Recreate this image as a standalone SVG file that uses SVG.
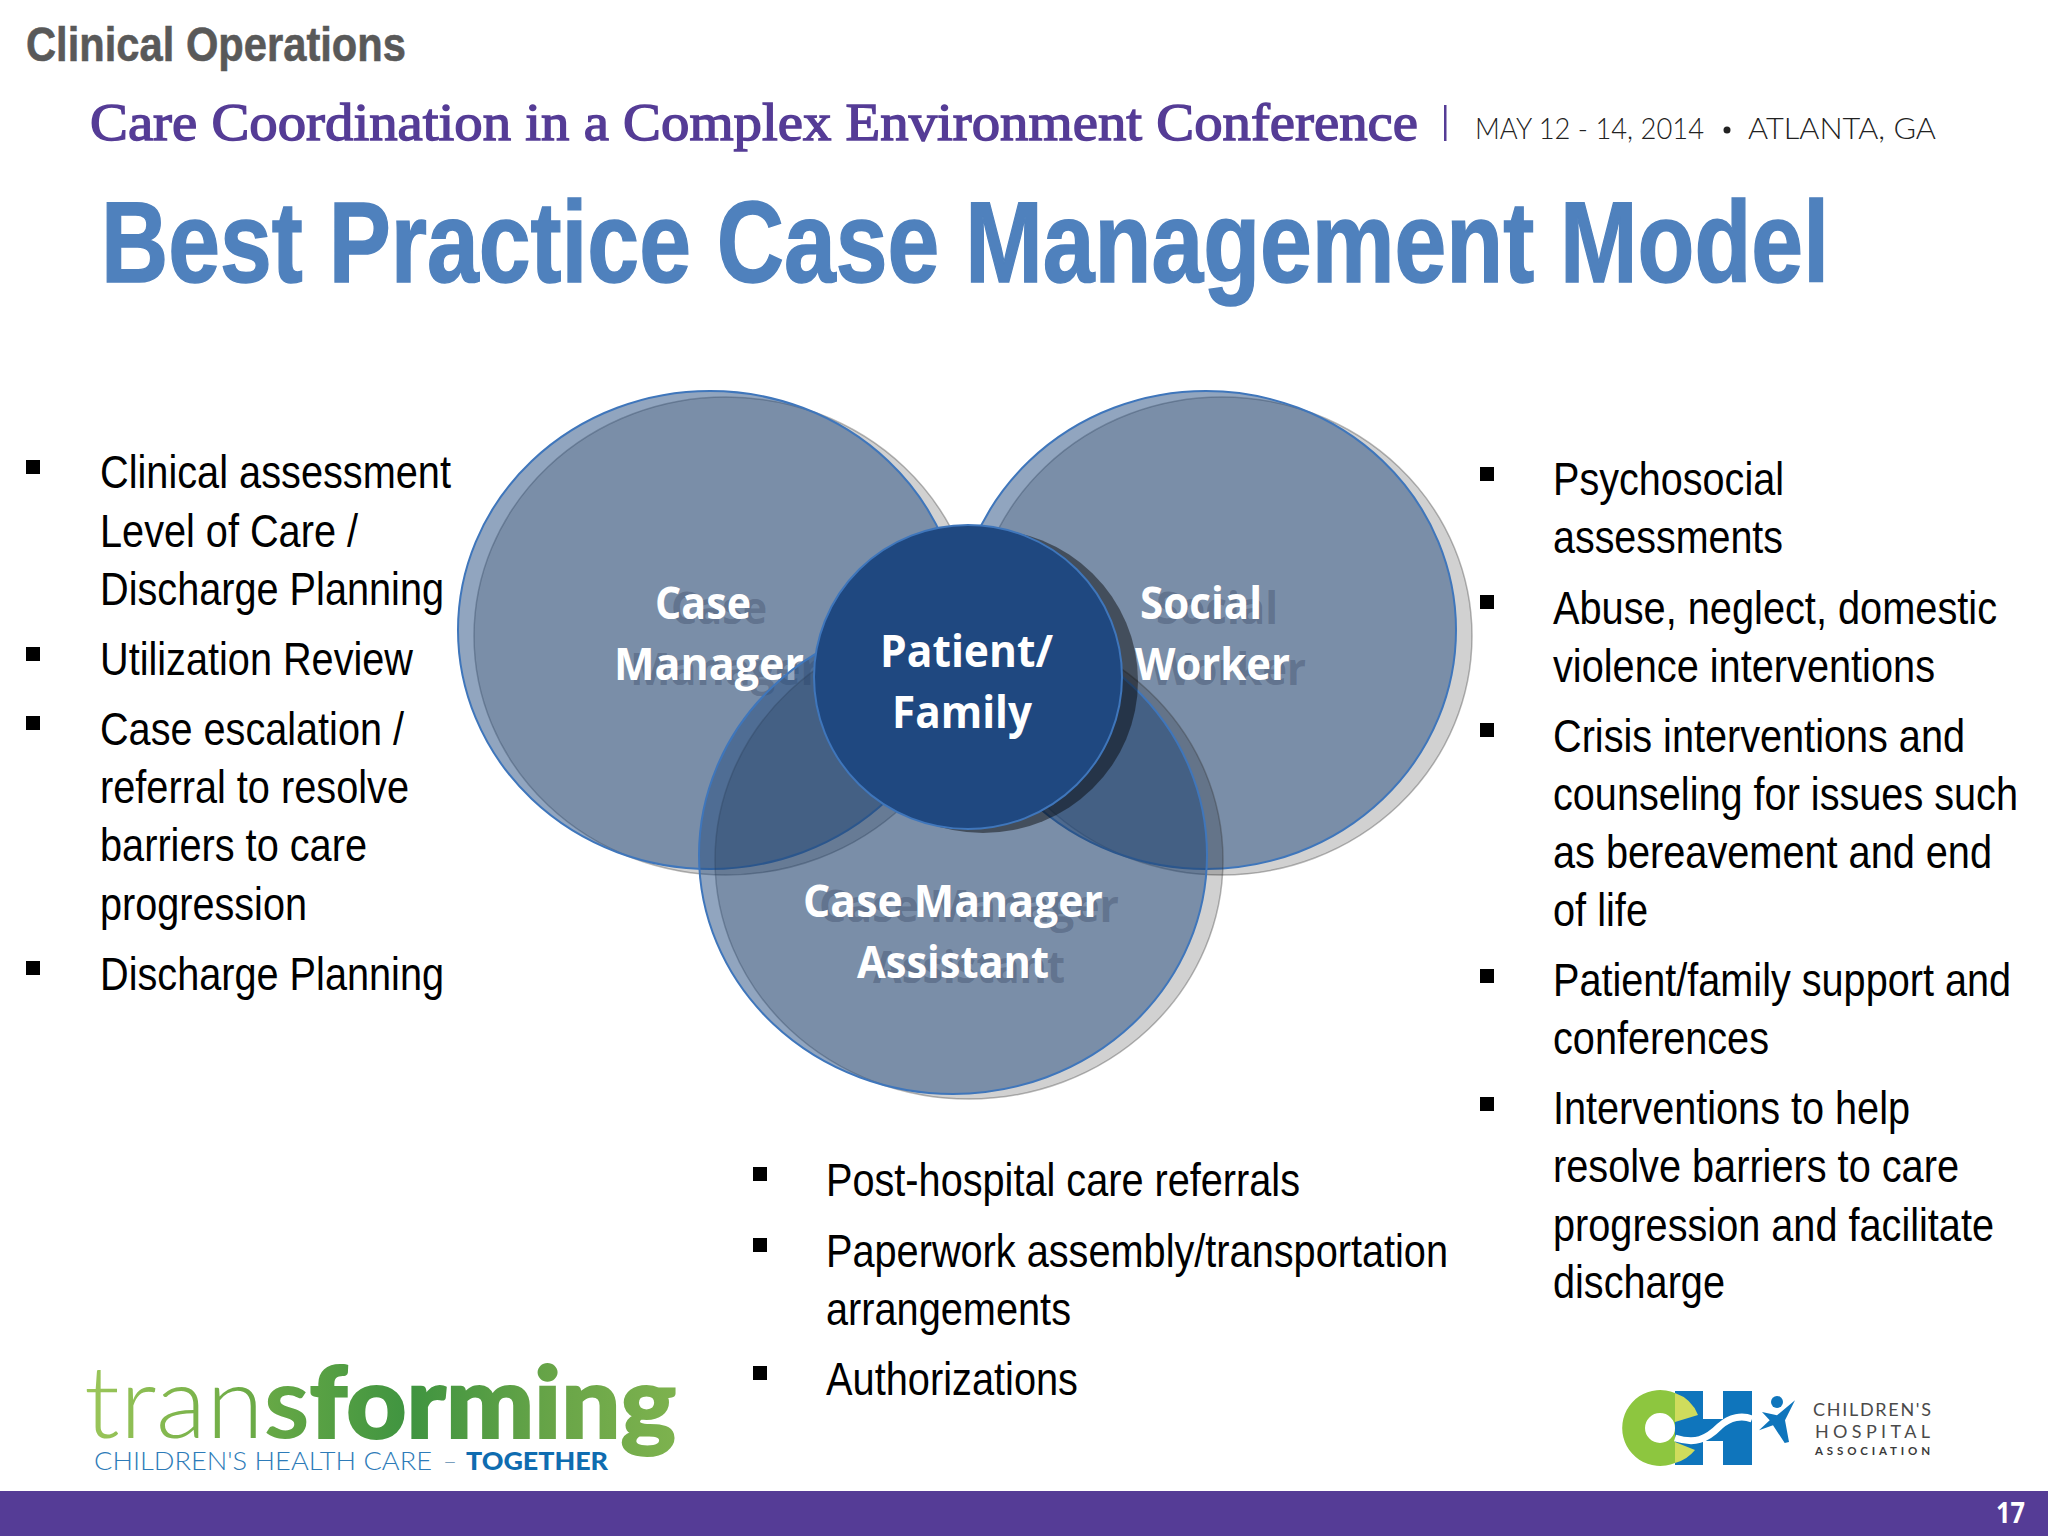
<svg xmlns="http://www.w3.org/2000/svg" width="2048" height="1536" viewBox="0 0 2048 1536">
<style>
text{font-family:"Liberation Sans",Arial,sans-serif}
.b{font-size:47px;fill:#000}
.sq{fill:#000}
.sh{fill:#000;fill-opacity:.18;stroke:#333;stroke-opacity:.35;stroke-width:1.5}
.m{fill:#234c80;fill-opacity:.5;stroke:#3f76bb;stroke-width:2}
.l{font-family:"Open Sans","Liberation Sans",sans-serif;font-weight:700;font-size:44px;fill:#fff}
.ls{font-family:"Open Sans","Liberation Sans",sans-serif;font-weight:700;font-size:44px;fill:#3a4a66;fill-opacity:.4}
.la{font-family:Lato,"Liberation Sans",sans-serif}
</style>
<defs>
<linearGradient id="tg" gradientUnits="userSpaceOnUse" x1="86" y1="0" x2="674" y2="0">
<stop offset="0" stop-color="#9cc65a"/><stop offset=".25" stop-color="#70ad47"/><stop offset=".55" stop-color="#3f9440"/><stop offset=".8" stop-color="#69a548"/><stop offset="1" stop-color="#7db24e"/>
</linearGradient>
</defs>
<rect width="2048" height="1536" fill="#fff"/>
<g id="header">
<text x="26" y="61" font-size="49" font-weight="700" fill="#595959" stroke="#595959" stroke-width=".6" textLength="380" lengthAdjust="spacingAndGlyphs">Clinical Operations</text>
<text x="90" y="140" font-size="53" font-weight="400" fill="#553c96" stroke="#553c96" stroke-width="1.400" style="font-family:'Liberation Serif',serif" textLength="1328" lengthAdjust="spacingAndGlyphs">Care Coordination in a Complex Environment Conference</text>
<rect x="1444" y="105" width="2.500" height="36" fill="#553c96"/>
<text class="la" x="1475" y="139" font-size="29" font-weight="300" fill="#222" textLength="229" lengthAdjust="spacingAndGlyphs">MAY 12 - 14, 2014</text>
<circle cx="1727" cy="130" r="3.500" fill="#222"/>
<text class="la" x="1748" y="139" font-size="29" font-weight="300" fill="#222" textLength="188" lengthAdjust="spacingAndGlyphs">ATLANTA, GA</text>
<text x="101" y="282" font-size="115" font-weight="700" fill="#4f81bd" stroke="#4f81bd" stroke-width="1.500" textLength="1728" lengthAdjust="spacingAndGlyphs">Best Practice Case Management Model</text>
</g>
<g id="node-case-manager">
<ellipse class="sh" cx="726" cy="636" rx="252" ry="239"/>
<ellipse class="m" cx="710" cy="630" rx="252" ry="239"/>
<text class="ls" x="671" y="624" textLength="96" lengthAdjust="spacingAndGlyphs">Case</text>
<text class="ls" x="630" y="685" textLength="190" lengthAdjust="spacingAndGlyphs">Manager</text>
<text class="l" x="655" y="619" textLength="96" lengthAdjust="spacingAndGlyphs">Case</text>
<text class="l" x="614" y="680" textLength="190" lengthAdjust="spacingAndGlyphs">Manager</text>
</g>
<g id="node-social-worker">
<ellipse class="sh" cx="1222" cy="636" rx="250" ry="239"/>
<ellipse class="m" cx="1206" cy="630" rx="250" ry="239"/>
<text class="ls" x="1156" y="624" textLength="122" lengthAdjust="spacingAndGlyphs">Social</text>
<text class="ls" x="1151" y="685" textLength="155" lengthAdjust="spacingAndGlyphs">Worker</text>
<text class="l" x="1140" y="619" textLength="122" lengthAdjust="spacingAndGlyphs">Social</text>
<text class="l" x="1135" y="680" textLength="155" lengthAdjust="spacingAndGlyphs">Worker</text>
</g>
<g id="node-assistant">
<ellipse class="sh" cx="969" cy="860" rx="254" ry="239"/>
<ellipse class="m" cx="953" cy="855" rx="254" ry="239"/>
<text class="ls" x="819" y="922" textLength="300" lengthAdjust="spacingAndGlyphs">Case Manager</text>
<text class="ls" x="873" y="983" textLength="192" lengthAdjust="spacingAndGlyphs">Assistant</text>
<text class="l" x="803" y="917" textLength="300" lengthAdjust="spacingAndGlyphs">Case Manager</text>
<text class="l" x="857" y="978" textLength="192" lengthAdjust="spacingAndGlyphs">Assistant</text>
</g>
<g id="node-patient-family">
<ellipse cx="983" cy="681" rx="155" ry="152" fill="#000" fill-opacity=".45"/>
<ellipse cx="968" cy="677" rx="154" ry="152" fill="#1f4880" stroke="#3f76bb" stroke-width="2"/>
<text class="l" x="880" y="667" textLength="173" lengthAdjust="spacingAndGlyphs">Patient/</text>
<text class="l" x="892" y="728" textLength="140" lengthAdjust="spacingAndGlyphs">Family</text>
</g>
<g id="connectors"/>
<g id="list-left">
<rect class="sq" x="26" y="460" width="14" height="14"/><rect class="sq" x="26" y="647" width="14" height="14"/><rect class="sq" x="26" y="716" width="14" height="14"/><rect class="sq" x="26" y="961" width="14" height="14"/>
<text class="b" x="100" y="488" textLength="351" lengthAdjust="spacingAndGlyphs">Clinical assessment</text>
<text class="b" x="100" y="547" textLength="258" lengthAdjust="spacingAndGlyphs">Level of Care /</text>
<text class="b" x="100" y="605" textLength="344" lengthAdjust="spacingAndGlyphs">Discharge Planning</text>
<text class="b" x="100" y="675" textLength="313" lengthAdjust="spacingAndGlyphs">Utilization Review</text>
<text class="b" x="100" y="745" textLength="304" lengthAdjust="spacingAndGlyphs">Case escalation /</text>
<text class="b" x="100" y="803" textLength="309" lengthAdjust="spacingAndGlyphs">referral to resolve</text>
<text class="b" x="100" y="861" textLength="267" lengthAdjust="spacingAndGlyphs">barriers to care</text>
<text class="b" x="100" y="920" textLength="207" lengthAdjust="spacingAndGlyphs">progression</text>
<text class="b" x="100" y="990" textLength="344" lengthAdjust="spacingAndGlyphs">Discharge Planning</text>
</g>
<g id="list-right">
<rect class="sq" x="1480" y="467" width="14" height="14"/><rect class="sq" x="1480" y="595" width="14" height="14"/><rect class="sq" x="1480" y="723" width="14" height="14"/><rect class="sq" x="1480" y="969" width="14" height="14"/><rect class="sq" x="1480" y="1097" width="14" height="14"/>
<text class="b" x="1553" y="495" textLength="231" lengthAdjust="spacingAndGlyphs">Psychosocial</text>
<text class="b" x="1553" y="553" textLength="230" lengthAdjust="spacingAndGlyphs">assessments</text>
<text class="b" x="1553" y="624" textLength="444" lengthAdjust="spacingAndGlyphs">Abuse, neglect, domestic</text>
<text class="b" x="1553" y="682" textLength="382" lengthAdjust="spacingAndGlyphs">violence interventions</text>
<text class="b" x="1553" y="752" textLength="412" lengthAdjust="spacingAndGlyphs">Crisis interventions and</text>
<text class="b" x="1553" y="810" textLength="465" lengthAdjust="spacingAndGlyphs">counseling for issues such</text>
<text class="b" x="1553" y="868" textLength="439" lengthAdjust="spacingAndGlyphs">as bereavement and end</text>
<text class="b" x="1553" y="926" textLength="95" lengthAdjust="spacingAndGlyphs">of life</text>
<text class="b" x="1553" y="996" textLength="458" lengthAdjust="spacingAndGlyphs">Patient/family support and</text>
<text class="b" x="1553" y="1054" textLength="216" lengthAdjust="spacingAndGlyphs">conferences</text>
<text class="b" x="1553" y="1124" textLength="357" lengthAdjust="spacingAndGlyphs">Interventions to help</text>
<text class="b" x="1553" y="1182" textLength="406" lengthAdjust="spacingAndGlyphs">resolve barriers to care</text>
<text class="b" x="1553" y="1241" textLength="441" lengthAdjust="spacingAndGlyphs">progression and facilitate</text>
<text class="b" x="1553" y="1298" textLength="172" lengthAdjust="spacingAndGlyphs">discharge</text>
</g>
<g id="list-bottom">
<rect class="sq" x="753" y="1167" width="14" height="14"/><rect class="sq" x="753" y="1238" width="14" height="14"/><rect class="sq" x="753" y="1366" width="14" height="14"/>
<text class="b" x="826" y="1196" textLength="474" lengthAdjust="spacingAndGlyphs">Post-hospital care referrals</text>
<text class="b" x="826" y="1267" textLength="622" lengthAdjust="spacingAndGlyphs">Paperwork assembly/transportation</text>
<text class="b" x="826" y="1325" textLength="245" lengthAdjust="spacingAndGlyphs">arrangements</text>
<text class="b" x="826" y="1395" textLength="252" lengthAdjust="spacingAndGlyphs">Authorizations</text>
</g>
<g id="logo-transforming">
<text class="la" x="84" y="1438" font-size="100" fill="url(#tg)" textLength="592" lengthAdjust="spacingAndGlyphs"><tspan font-weight="300">tran</tspan><tspan font-weight="700">s</tspan><tspan font-weight="900" stroke="url(#tg)" stroke-width="2">forming</tspan></text>
<text class="la" x="94" y="1470" font-size="25" font-weight="300" fill="#2d7bb8" textLength="338" lengthAdjust="spacingAndGlyphs">CHILDREN'S HEALTH CARE</text>
<text class="la" x="443" y="1470" font-size="25" font-weight="300" fill="#7a9fbd" textLength="14" lengthAdjust="spacingAndGlyphs">–</text>
<text class="la" x="466" y="1470" font-size="25" font-weight="900" fill="#0f6cb0" textLength="142" lengthAdjust="spacingAndGlyphs">TOGETHER</text>
</g>
<g id="logo-cha">
<path d="M1675 1391h28v28h20v-28h29v74h-29v-24h-20v24h-28z" fill="#0f75bc"/>
<path fill-rule="evenodd" d="M1675 1393A38 38 0 1 0 1675 1463ZM1675 1428A15 15 0 1 1 1645 1428A15 15 0 1 1 1675 1428Z" fill="#8dc63f"/>
<path d="M1675 1393A38 38 0 0 1 1698 1415L1675 1422ZM1675 1463A38 38 0 0 0 1695 1450L1675 1442Z" fill="#cfdc5c"/>
<path d="M1675 1438C1695 1444 1706 1440 1720 1426C1730 1417 1742 1415 1752 1419" fill="none" stroke="#fff" stroke-width="7"/>
<circle cx="1777" cy="1402" r="6" fill="#0f75bc"/>
<path d="M1762 1412l15 3.300 18-15-10 20 4 21.700-4.300 1-11.700-17.700-14 5 10.700-10z" fill="#0f75bc"/>
<text class="la" x="1813" y="1416" font-size="18" fill="#4a4a4a" textLength="118" lengthAdjust="spacing">CHILDREN'S</text>
<text class="la" x="1815" y="1438" font-size="18" fill="#4a4a4a" textLength="115" lengthAdjust="spacing">HOSPITAL</text>
<text class="la" x="1815" y="1455" font-size="11.500" font-weight="700" fill="#3a3a3a" textLength="115" lengthAdjust="spacing">ASSOCIATION</text>
</g>
<g id="footer">
<rect x="0" y="1491" width="2048" height="45" fill="#553c96"/>
<text x="1996" y="1523" font-size="28" font-weight="700" fill="#fff" style="font-family:'Open Sans',sans-serif" textLength="29" lengthAdjust="spacingAndGlyphs">17</text>
</g>
</svg>
